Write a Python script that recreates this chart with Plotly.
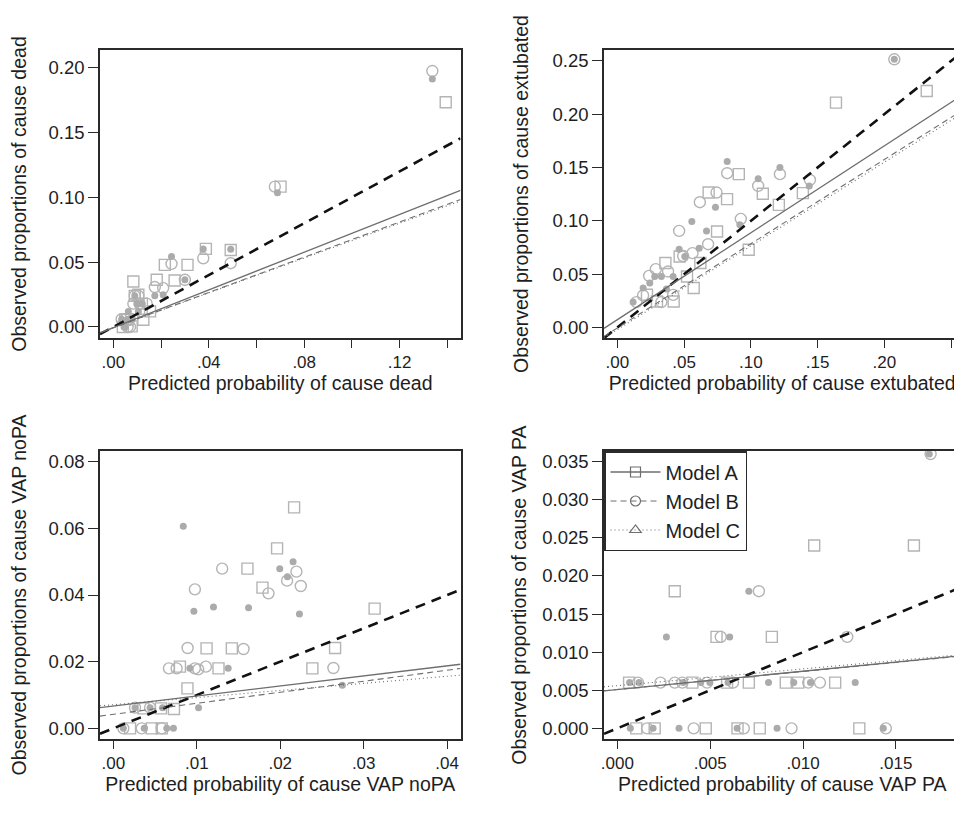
import plotly.graph_objects as go

# ---------------- data ----------------
# Panel 1: cause dead
dead_A_x = [0.1393, 0.0701, 0.0388, 0.0492, 0.0216, 0.0311, 0.0084, 0.0182, 0.0257, 0.0105, 0.0154, 0.0126, 0.0077, 0.0050, 0.0040, 0.0060, 0.0120, 0.0090]
dead_A_y = [0.1733, 0.1082, 0.0602, 0.0594, 0.0479, 0.0479, 0.0351, 0.0364, 0.0358, 0.0248, 0.0120, 0.0056, 0.0005, 0.0056, 0.0000, 0.0060, 0.0180, 0.0240]
dead_B_x = [0.1337, 0.0677, 0.0377, 0.0492, 0.0244, 0.0174, 0.0209, 0.0300, 0.0084, 0.0140, 0.0105, 0.0110, 0.0050, 0.0060, 0.0070, 0.0035, 0.0120, 0.0090]
dead_B_y = [0.1974, 0.1082, 0.0530, 0.0492, 0.0487, 0.0308, 0.0300, 0.0364, 0.0180, 0.0180, 0.0240, 0.0180, 0.0060, 0.0000, 0.0000, 0.0060, 0.0120, 0.0240]
dead_C_x = [0.1337, 0.0688, 0.0377, 0.0492, 0.0244, 0.0300, 0.0174, 0.0209, 0.0090, 0.0105, 0.0063, 0.0035, 0.0050, 0.0120, 0.0060, 0.0045, 0.0080, 0.0100]
dead_C_y = [0.1913, 0.1036, 0.0602, 0.0600, 0.0543, 0.0364, 0.0240, 0.0248, 0.0240, 0.0120, 0.0120, 0.0060, 0.0000, 0.0180, 0.0060, 0.0000, 0.0060, 0.0180]

# Panel 2: cause extubated
ext_A_x = [0.2318, 0.1638, 0.0910, 0.0684, 0.0822, 0.1090, 0.1390, 0.1210, 0.0747, 0.0984, 0.0360, 0.0467, 0.0622, 0.0522, 0.0572, 0.0222, 0.0422, 0.0297]
ext_A_y = [0.2219, 0.2109, 0.1438, 0.1266, 0.1204, 0.1254, 0.1260, 0.1150, 0.0900, 0.0729, 0.0604, 0.0666, 0.0604, 0.0478, 0.0370, 0.0307, 0.0244, 0.0244]
ext_B_x = [0.2075, 0.0823, 0.1218, 0.1055, 0.1443, 0.0743, 0.0618, 0.0925, 0.0463, 0.0563, 0.0680, 0.0288, 0.0238, 0.0380, 0.0193, 0.0330, 0.0143, 0.0493, 0.0418]
ext_B_y = [0.2516, 0.1447, 0.1438, 0.1328, 0.1384, 0.1266, 0.1175, 0.1019, 0.0906, 0.0697, 0.0781, 0.0547, 0.0484, 0.0525, 0.0300, 0.0238, 0.0238, 0.0670, 0.0306]
ext_C_x = [0.2075, 0.0823, 0.1218, 0.1055, 0.1438, 0.0735, 0.0558, 0.0668, 0.0918, 0.0613, 0.0463, 0.0505, 0.0418, 0.0330, 0.0280, 0.0193, 0.0243, 0.0368, 0.0118]
ext_C_y = [0.2516, 0.1556, 0.1500, 0.1394, 0.1328, 0.1128, 0.0994, 0.0906, 0.0963, 0.0744, 0.0734, 0.0666, 0.0478, 0.0478, 0.0478, 0.0369, 0.0416, 0.0360, 0.0238]

# Panel 3: cause VAP noPA
nopa_A_x = [0.02166, 0.01962, 0.01607, 0.01787, 0.03131, 0.01117, 0.01420, 0.02657, 0.02385, 0.01260, 0.00798, 0.00888, 0.00726, 0.00200, 0.00460, 0.00580, 0.00360, 0.00570]
nopa_A_y = [0.0663, 0.0540, 0.0479, 0.0422, 0.0359, 0.0240, 0.0240, 0.0241, 0.0180, 0.0180, 0.0185, 0.0120, 0.0058, 0.0000, 0.0000, 0.0000, 0.0060, 0.0060]
nopa_B_x = [0.01304, 0.00977, 0.01859, 0.02082, 0.02194, 0.02246, 0.00890, 0.01560, 0.02637, 0.01109, 0.00666, 0.00758, 0.00977, 0.01017, 0.00260, 0.00440, 0.00120, 0.00340, 0.00580]
nopa_B_y = [0.0479, 0.0417, 0.0405, 0.0443, 0.0470, 0.0427, 0.0241, 0.0238, 0.0181, 0.0185, 0.0180, 0.0180, 0.0180, 0.0177, 0.0062, 0.0062, 0.0000, 0.0000, 0.0000]
nopa_C_x = [0.00838, 0.00965, 0.01200, 0.01620, 0.01994, 0.02154, 0.02086, 0.02230, 0.02744, 0.01376, 0.00917, 0.01021, 0.00590, 0.00260, 0.00440, 0.00370, 0.00720, 0.00640, 0.00120]
nopa_C_y = [0.0606, 0.0351, 0.0364, 0.0362, 0.0479, 0.0500, 0.0455, 0.0343, 0.0129, 0.0180, 0.0180, 0.0062, 0.0062, 0.0062, 0.0062, 0.0000, 0.0000, 0.0000, 0.0000]

# Panel 4: cause VAP PA
pa_A_x = [0.01060, 0.01597, 0.00309, 0.00534, 0.00832, 0.00063, 0.00404, 0.00591, 0.00708, 0.00907, 0.00974, 0.01173, 0.00102, 0.00201, 0.00476, 0.00647, 0.00767, 0.01303]
pa_A_y = [0.024, 0.024, 0.018, 0.012, 0.012, 0.006, 0.006, 0.006, 0.006, 0.006, 0.006, 0.006, 0.0, 0.0, 0.0, 0.0, 0.0, 0.0]
pa_B_x = [0.01687, 0.00762, 0.01238, 0.00557, 0.00111, 0.00232, 0.00309, 0.00350, 0.00483, 0.00623, 0.01028, 0.01091, 0.00160, 0.00411, 0.00681, 0.00938, 0.01446]
pa_B_y = [0.036, 0.018, 0.012, 0.012, 0.006, 0.006, 0.006, 0.006, 0.006, 0.006, 0.006, 0.006, 0.0, 0.0, 0.0, 0.0, 0.0]
pa_C_x = [0.01680, 0.00708, 0.00264, 0.00605, 0.00066, 0.00117, 0.00354, 0.00449, 0.00498, 0.00596, 0.00814, 0.00950, 0.01040, 0.01281, 0.00070, 0.00192, 0.00332, 0.00645, 0.00860, 0.01432]
pa_C_y = [0.036, 0.018, 0.012, 0.012, 0.006, 0.006, 0.006, 0.006, 0.006, 0.006, 0.006, 0.006, 0.006, 0.006, 0.0, 0.0, 0.0, 0.0, 0.0, 0.0]

# Calibration lines (intercept, slope) per panel for models A, B, C
dead_lines = [(-0.0005, 0.727), (-0.0006, 0.680), (-0.0006, 0.672)]
ext_lines = [(0.0073, 0.815), (-0.0005, 0.790), (-0.0020, 0.785)]
nopa_lines = [(0.0067, 0.301), (0.0042, 0.331), (0.0071, 0.213)]
pa_lines = [(0.0051, 0.240), (0.0051, 0.237), (0.0056, 0.220)]

model_names = ["Model A", "Model B", "Model C"]
causes = ["dead", "extubated", "VAP noPA", "VAP PA"]

# tick labels
dead_xticks = [0.00, 0.02, 0.04, 0.06, 0.08, 0.10, 0.12, 0.14]
dead_xtext = [".00", "", ".04", "", ".08", "", ".12", ""]
dead_yticks = [0.00, 0.05, 0.10, 0.15, 0.20]
dead_ytext = ["0.00", "0.05", "0.10", "0.15", "0.20"]
ext_xticks = [0.00, 0.05, 0.10, 0.15, 0.20, 0.25]
ext_xtext = [".00", ".05", ".10", ".15", ".20", ".25"]
ext_yticks = [0.00, 0.05, 0.10, 0.15, 0.20, 0.25]
ext_ytext = ["0.00", "0.05", "0.10", "0.15", "0.20", "0.25"]
nopa_xticks = [0.00, 0.01, 0.02, 0.03, 0.04]
nopa_xtext = [".00", ".01", ".02", ".03", ".04"]
nopa_yticks = [0.00, 0.02, 0.04, 0.06, 0.08]
nopa_ytext = ["0.00", "0.02", "0.04", "0.06", "0.08"]
pa_xticks = [0.000, 0.005, 0.010, 0.015]
pa_xtext = [".000", ".005", ".010", ".015"]
pa_yticks = [0.000, 0.005, 0.010, 0.015, 0.020, 0.025, 0.030, 0.035]
pa_ytext = ["0.000", "0.005", "0.010", "0.015", "0.020", "0.025", "0.030", "0.035"]

panels = [
    dict(pts=[(dead_A_x, dead_A_y), (dead_B_x, dead_B_y), (dead_C_x, dead_C_y)], lines=dead_lines,
         xr=[-0.00557, 0.1455], yr=[-0.0085, 0.2136], xt=(dead_xticks, dead_xtext), yt=(dead_yticks, dead_ytext)),
    dict(pts=[(ext_A_x, ext_A_y), (ext_B_x, ext_B_y), (ext_C_x, ext_C_y)], lines=ext_lines,
         xr=[-0.0100, 0.2571], yr=[-0.0099, 0.2603], xt=(ext_xticks, ext_xtext), yt=(ext_yticks, ext_ytext)),
    dict(pts=[(nopa_A_x, nopa_A_y), (nopa_B_x, nopa_B_y), (nopa_C_x, nopa_C_y)], lines=nopa_lines,
         xr=[-0.0016, 0.0416], yr=[-0.0032, 0.0832], xt=(nopa_xticks, nopa_xtext), yt=(nopa_yticks, nopa_ytext)),
    dict(pts=[(pa_A_x, pa_A_y), (pa_B_x, pa_B_y), (pa_C_x, pa_C_y)], lines=pa_lines,
         xr=[-0.00072, 0.01848], yr=[-0.0014, 0.0364], xt=(pa_xticks, pa_xtext), yt=(pa_yticks, pa_ytext)),
]

# ---------------- styling ----------------
OFF = 8  # page body margin
W, H = 962 - OFF, 813 - OFF
boxes = [(100, 460.5, 50, 338), (604, 960.5, 50, 338), (100, 460.5, 451, 739), (604, 960.5, 451, 739)]
boxes = [(l - OFF, r - OFF, t - OFF, b - OFF) for (l, r, t, b) in boxes]
ytitle_standoff = [20, 19, 20, 10]
PT = "#b4b4b4"
FILL = "#ababab"
LINEGRAY = "#6e6e6e"
FRAME = "#2a2a2a"
TXT = "#1e1e1e"
SANS = "Liberation Sans, Arial, sans-serif"

marker_styles = [
    dict(symbol="square-open", size=11, color=PT, line=dict(width=1.4, color=PT)),
    dict(symbol="circle-open", size=11, color=PT, line=dict(width=1.4, color=PT)),
    dict(symbol="circle", size=7, color=FILL, line=dict(width=0)),
]
line_styles = [
    dict(color=LINEGRAY, width=1.3, dash="solid"),
    dict(color=LINEGRAY, width=1.1, dash="6px,4px"),
    dict(color=LINEGRAY, width=1.1, dash="1px,3px"),
]

fig = go.Figure()

for i, p in enumerate(panels):
    k = "" if i == 0 else str(i + 1)
    xa, ya = "x" + k, "y" + k
    for m in range(3):
        xs, ys = p["pts"][m]
        fig.add_trace(go.Scatter(x=xs, y=ys, mode="markers", xaxis=xa, yaxis=ya,
                                 marker=marker_styles[m], showlegend=False, hoverinfo="skip"))
    x0, x1 = p["xr"]
    # identity (perfect calibration) line
    fig.add_trace(go.Scatter(x=[x0, x1], y=[x0, x1], mode="lines", xaxis=xa, yaxis=ya,
                             line=dict(color="#111111", width=2.6, dash="10px,7px"),
                             showlegend=False, hoverinfo="skip"))
    for m in range(3):
        a, b = p["lines"][m]
        fig.add_trace(go.Scatter(x=[x0, x1], y=[a + b * x0, a + b * x1], mode="lines",
                                 xaxis=xa, yaxis=ya, line=line_styles[m],
                                 showlegend=False, hoverinfo="skip"))

# legend entries (in panel 4)
legend_symbols = ["square-open", "circle-open", "triangle-up-open"]
for m in range(3):
    fig.add_trace(go.Scatter(x=[None], y=[None], mode="lines+markers", xaxis="x4", yaxis="y4",
                             name=model_names[m], line=line_styles[m],
                             marker=dict(symbol=legend_symbols[m], size=10, color=LINEGRAY,
                                         line=dict(width=1.2, color=LINEGRAY)),
                             showlegend=True))

layout = dict(
    width=W, height=H, margin=dict(l=0, r=0, t=0, b=0),
    paper_bgcolor="white", plot_bgcolor="white",
    showlegend=True,
    legend=dict(x=(604 - OFF) / W, y=1 - (451 - OFF) / H, xanchor="left", yanchor="top",
                bgcolor="white", bordercolor=FRAME, borderwidth=1.5,
                font=dict(family=SANS, size=20, color=TXT), tracegroupgap=0,
                itemwidth=50),
    font=dict(family=SANS, color=TXT),
)

for i, p in enumerate(panels):
    k = "" if i == 0 else str(i + 1)
    l, r, t, b = boxes[i]
    layout["xaxis" + k] = dict(
        domain=[l / W, r / W], range=p["xr"], anchor="y" + k,
        tickmode="array", tickvals=p["xt"][0], ticktext=p["xt"][1],
        ticks="outside", ticklen=8, tickwidth=1.3, tickcolor=FRAME,
        showline=True, linecolor=FRAME, linewidth=1.5, mirror=True,
        showgrid=False, zeroline=False, automargin=False,
        tickfont=dict(family=SANS, size=17, color=TXT),
        title=dict(text="Predicted probability of cause " + causes[i],
                   font=dict(family=SANS, size=19.5, color=TXT), standoff=1),
    )
    layout["yaxis" + k] = dict(
        domain=[1 - b / H, 1 - t / H], range=p["yr"], anchor="x" + k,
        tickmode="array", tickvals=p["yt"][0], ticktext=p["yt"][1],
        ticks="outside", ticklen=10, tickwidth=1.3, tickcolor=FRAME,
        showline=True, linecolor=FRAME, linewidth=1.5, mirror=True,
        showgrid=False, zeroline=False, automargin=False,
        tickfont=dict(family=SANS, size=18.5, color=TXT),
        title=dict(text="Observed proportions of cause " + causes[i],
                   font=dict(family=SANS, size=19.5, color=TXT), standoff=ytitle_standoff[i]),
    )

fig.update_layout(**layout)
fig.write_html("out.html")
